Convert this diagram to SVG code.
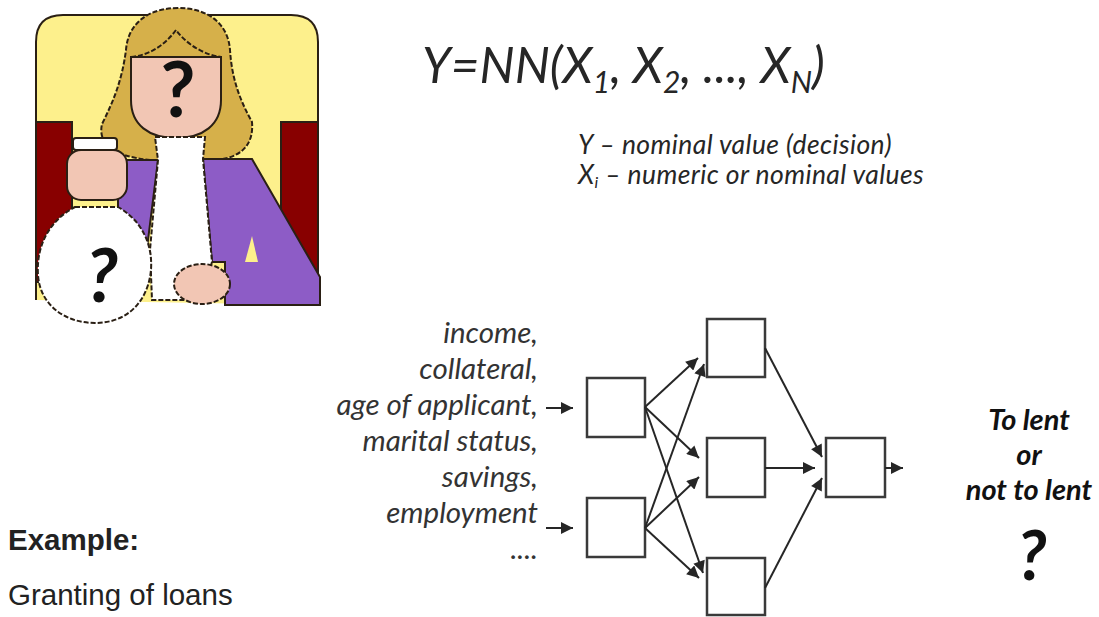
<svg xmlns="http://www.w3.org/2000/svg" width="1099" height="617" viewBox="0 0 1099 617">
  <style>
    .it { font-family: Lato, "Liberation Sans", sans-serif; font-style: italic; fill: #262626; }
    .inp { font-size: 29.5px; text-anchor: end; fill: #333; }
    .note { font-size: 26.5px; letter-spacing: 0.4px; }
    .unit { fill: #fff; stroke: #3a3a3a; stroke-width: 2.5; }
    .link { fill: none; stroke: #262626; stroke-width: 2; marker-end: url(#tip); }
    .ink { stroke: #2a1f14; stroke-width: 2; }
    .dash { stroke-dasharray: 5 2; }
    .lbl { font-family: "Liberation Sans", Arial, sans-serif; fill: #222; font-size: 29.5px; }
  </style>
  <defs>
    <marker id="tip" viewBox="0 0 10 10" refX="10" refY="5" markerWidth="6.5" markerHeight="6" markerUnits="strokeWidth" orient="auto">
      <path d="M0,0 L10,5 L0,10 z" fill="#262626"/>
    </marker>
  </defs>
  <rect width="1099" height="617" fill="#fff"/>

  <!-- cartoon: loan officer with money bag -->
  <g id="officer">
    <path d="M36,300 V42 Q36,15 63,15 H291 Q318,15 318,42 V305" fill="#fdf08c" class="ink"/>
    <rect x="36" y="122" width="36" height="160" fill="#880000" class="ink" stroke-width="1.5"/>
    <rect x="281" y="122" width="37" height="150" fill="#880000" class="ink" stroke-width="1.5"/>
    <!-- hair -->
    <path d="M178,8 C150,8 128,22 126,50 C122,80 114,100 102,124 C98,142 110,156 150,160 L215,160 C240,158 254,146 252,122 C240,100 232,80 230,50 C228,22 206,8 178,8 Z" fill="#d6b04a" class="ink dash"/>
    <!-- face -->
    <path d="M131,57 H221 V100 C221,125 203,138 176,138 C149,138 131,125 131,100 Z" fill="#f2c6b4" class="ink"/>
    <path d="M131,57 C150,55 165,45 176,30 C187,45 205,55 221,57" fill="none" class="ink dash"/>
    <text x="178" y="117" text-anchor="middle" font-family="Lato, 'Liberation Sans', sans-serif" font-weight="bold" font-size="76" fill="#111">?</text>
    <!-- jacket -->
    <path d="M118,160 H158 L147,248 L118,208 Z" fill="#8d5cc6" class="ink"/>
    <path d="M203,159 H252 L320,277 V305 H225 V262 H212 Z" fill="#8d5cc6" class="ink"/>
    <path d="M245,262 L252,236 L258,262 Z" fill="#fdf08c"/>
    <!-- scarf -->
    <path d="M155,137 H205 L203,159 L212,262 L200,300 H152 L150,250 L158,160 Z" fill="#fff" class="ink dash"/>
    <!-- hand on desk -->
    <ellipse cx="202" cy="284" rx="28" ry="20" fill="#f2c6b4" class="ink dash"/>
    <!-- money bag -->
    <path d="M75,207 H118 C150,225 156,260 148,285 C140,310 120,323 95,323 C65,323 40,305 38,275 C36,245 50,220 75,207 Z" fill="#fff" class="ink dash"/>
    <rect x="73" y="138" width="44" height="12" rx="3" fill="#fff" class="ink"/>
    <rect x="67" y="150" width="60" height="50" rx="14" fill="#f2c6b4" class="ink" stroke-width="1.5"/>
    <text x="102" y="302" text-anchor="middle" font-family="Lato, 'Liberation Sans', sans-serif" font-weight="bold" font-style="italic" font-size="74" fill="#111">?</text>
  </g>

  <!-- model formula -->
  <g id="formula">
    <text x="422" y="83" class="it" font-size="49.5">Y=NN(X<tspan font-size="30" dy="10">1</tspan><tspan dy="-10">, X</tspan><tspan font-size="30" dy="10">2</tspan><tspan dy="-10">, ..., X</tspan><tspan font-size="30" dy="10">N</tspan><tspan dy="-10">)</tspan></text>
    <text x="578" y="154" class="it note">Y – nominal value (decision)</text>
    <text x="578" y="184" class="it note">X<tspan font-size="16" dy="4">i</tspan><tspan dy="-4"> – numeric or nominal values</tspan></text>
  </g>

  <!-- input attributes -->
  <g id="inputs">
    <text x="538" y="343" class="it inp">income,</text>
    <text x="538" y="379" class="it inp">collateral,</text>
    <text x="538" y="415" class="it inp">age of applicant,</text>
    <text x="538" y="451" class="it inp">marital status,</text>
    <text x="538" y="487" class="it inp">savings,</text>
    <text x="538" y="523" class="it inp">employment</text>
    <text x="538" y="559" class="it inp">....</text>
  </g>

  <!-- network units -->
  <g id="in1"><rect class="unit" x="587" y="378" width="58" height="59"/></g>
  <g id="in2"><rect class="unit" x="587" y="498" width="58" height="59"/></g>
  <g id="h1"><rect class="unit" x="707" y="319" width="58" height="58"/></g>
  <g id="h2"><rect class="unit" x="707" y="438" width="58" height="59"/></g>
  <g id="h3"><rect class="unit" x="707" y="558" width="58" height="57"/></g>
  <g id="out"><rect class="unit" x="826" y="438" width="59" height="59"/></g>

  <!-- connections -->
  <g id="connectors">
    <line class="link" x1="546" y1="408" x2="573" y2="408"/>
    <line class="link" x1="546" y1="528" x2="573" y2="528"/>
    <line class="link" x1="645" y1="407" x2="698" y2="358"/>
    <line class="link" x1="645" y1="407" x2="699" y2="458"/>
    <line class="link" x1="645" y1="407" x2="703" y2="573"/>
    <line class="link" x1="645" y1="528" x2="704" y2="364"/>
    <line class="link" x1="645" y1="528" x2="699" y2="477"/>
    <line class="link" x1="645" y1="528" x2="699" y2="578"/>
    <line class="link" x1="765" y1="348" x2="822" y2="457"/>
    <line class="link" x1="765" y1="468" x2="815" y2="468"/>
    <line class="link" x1="765" y1="588" x2="822" y2="478"/>
    <line class="link" x1="885" y1="468" x2="903" y2="468"/>
  </g>

  <!-- decision -->
  <g id="decision" font-family="Lato, 'Liberation Sans', sans-serif" font-weight="bold" font-style="italic" fill="#111" text-anchor="middle">
    <text x="1029" y="430" font-size="29">To lent</text>
    <text x="1029" y="465" font-size="29">or</text>
    <text x="1029" y="500" font-size="29">not to lent</text>
    <text x="1032" y="580" font-size="68">?</text>
  </g>

  <!-- caption -->
  <g id="caption">
    <text x="8" y="550" class="lbl" font-weight="bold">Example:</text>
    <text x="8" y="605" class="lbl">Granting of loans</text>
  </g>
</svg>
